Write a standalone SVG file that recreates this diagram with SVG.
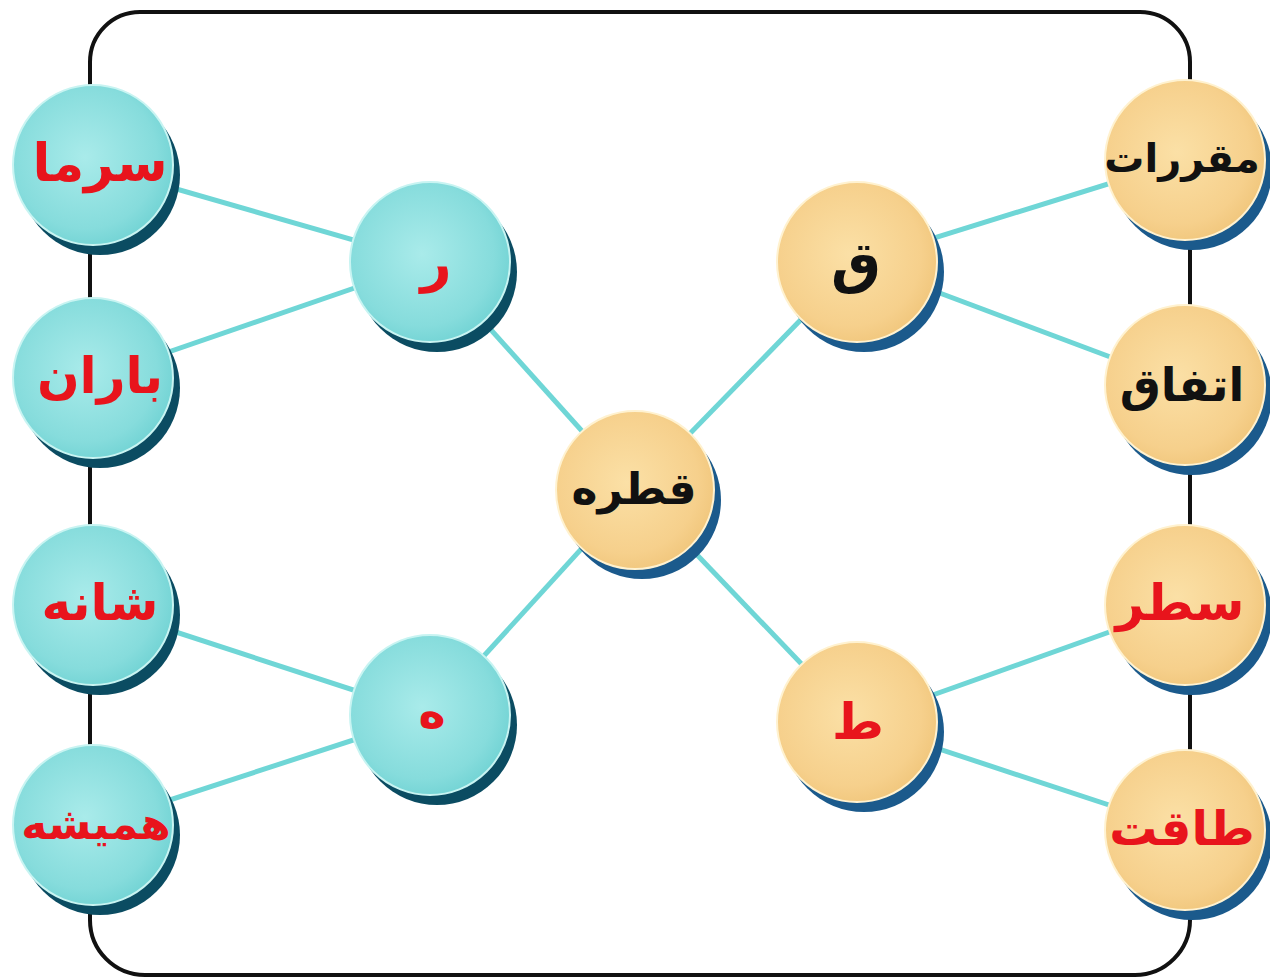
<svg xmlns="http://www.w3.org/2000/svg" width="1270" height="979" viewBox="0 0 1270 979">
<defs>
<radialGradient id="gt" cx="0.45" cy="0.45" r="0.6">
<stop offset="0" stop-color="#a9ebea"/>
<stop offset="0.75" stop-color="#86dcdc"/>
<stop offset="1" stop-color="#6fd2d3"/>
</radialGradient>
<radialGradient id="gb" cx="0.45" cy="0.45" r="0.6">
<stop offset="0" stop-color="#fbe0a6"/>
<stop offset="0.75" stop-color="#f6d08c"/>
<stop offset="1" stop-color="#f0c57a"/>
</radialGradient>
<style>
.tc{fill:url(#gt);stroke:#c8f4f2;stroke-width:2}
.bc{fill:url(#gb);stroke:#fff2d0;stroke-width:2}
.ts{fill:#0b4c62}
.bs{fill:#1b5a8c}
.lbl{font-family:"DejaVu Sans",sans-serif;font-weight:bold;text-anchor:middle;dominant-baseline:central}
.red{fill:#e8141c}
.blk{fill:#111}
.con line{stroke:#6fd6d6;stroke-width:5}
</style>
</defs>
<rect width="1270" height="979" fill="#fff"/>
<path d="M90,90 V62 A50,50 0 0 1 140,12 H1140 A50,50 0 0 1 1190,62 V920 A55,55 0 0 1 1135,975 H145 A55,55 0 0 1 90,920 Z" fill="none" stroke="#111" stroke-width="4"/>
<g class="con">
<line x1="93" y1="165" x2="430" y2="262"/>
<line x1="93" y1="378" x2="430" y2="262"/>
<line x1="430" y1="262" x2="635" y2="490"/>
<line x1="635" y1="490" x2="430" y2="715"/>
<line x1="93" y1="605" x2="430" y2="715"/>
<line x1="93" y1="825" x2="430" y2="715"/>
<line x1="635" y1="490" x2="857" y2="262"/>
<line x1="635" y1="490" x2="857" y2="722"/>
<line x1="857" y1="262" x2="1185" y2="160"/>
<line x1="857" y1="262" x2="1185" y2="385"/>
<line x1="857" y1="722" x2="1185" y2="605"/>
<line x1="857" y1="722" x2="1185" y2="830"/>
</g>
<g id="sarma"><circle class="ts" cx="100" cy="175" r="80"/><circle class="tc" cx="93" cy="165" r="80"/><text class="lbl red" x="100" y="163" font-size="52">سرما</text></g>
<g id="baran"><circle class="ts" cx="100" cy="388" r="80"/><circle class="tc" cx="93" cy="378" r="80"/><text class="lbl red" x="100" y="376" font-size="50">باران</text></g>
<g id="shane"><circle class="ts" cx="100" cy="615" r="80"/><circle class="tc" cx="93" cy="605" r="80"/><text class="lbl red" x="100" y="603" font-size="50">شانه</text></g>
<g id="hamishe"><circle class="ts" cx="100" cy="835" r="80"/><circle class="tc" cx="93" cy="825" r="80"/><text class="lbl red" x="96" y="823" font-size="44">همیشه</text></g>
<g id="re"><circle class="ts" cx="437" cy="272" r="80"/><circle class="tc" cx="430" cy="262" r="80"/><text class="lbl red" x="436" y="262" font-size="54">ر</text></g>
<g id="he"><circle class="ts" cx="437" cy="725" r="80"/><circle class="tc" cx="430" cy="715" r="80"/><text class="lbl red" x="432" y="712" font-size="46">ه</text></g>
<g id="ghatre"><circle class="bs" cx="642" cy="500" r="79"/><circle class="bc" cx="635" cy="490" r="79"/><text class="lbl blk" x="634" y="488" font-size="44">قطره</text></g>
<g id="ghaf"><circle class="bs" cx="864" cy="272" r="80"/><circle class="bc" cx="857" cy="262" r="80"/><text class="lbl blk" x="856" y="262" font-size="56">ق</text></g>
<g id="ta"><circle class="bs" cx="864" cy="732" r="80"/><circle class="bc" cx="857" cy="722" r="80"/><text class="lbl red" x="858" y="722" font-size="50">ط</text></g>
<g id="moqarrarat"><circle class="bs" cx="1192" cy="170" r="80"/><circle class="bc" cx="1185" cy="160" r="80"/><text class="lbl blk" x="1182" y="158" font-size="40">مقررات</text></g>
<g id="ettefagh"><circle class="bs" cx="1192" cy="395" r="80"/><circle class="bc" cx="1185" cy="385" r="80"/><text class="lbl blk" x="1182" y="385" font-size="46">اتفاق</text></g>
<g id="satr"><circle class="bs" cx="1192" cy="615" r="80"/><circle class="bc" cx="1185" cy="605" r="80"/><text class="lbl red" x="1180" y="603" font-size="50">سطر</text></g>
<g id="taghat"><circle class="bs" cx="1192" cy="840" r="80"/><circle class="bc" cx="1185" cy="830" r="80"/><text class="lbl red" x="1182" y="828" font-size="48">طاقت</text></g>
</svg>
